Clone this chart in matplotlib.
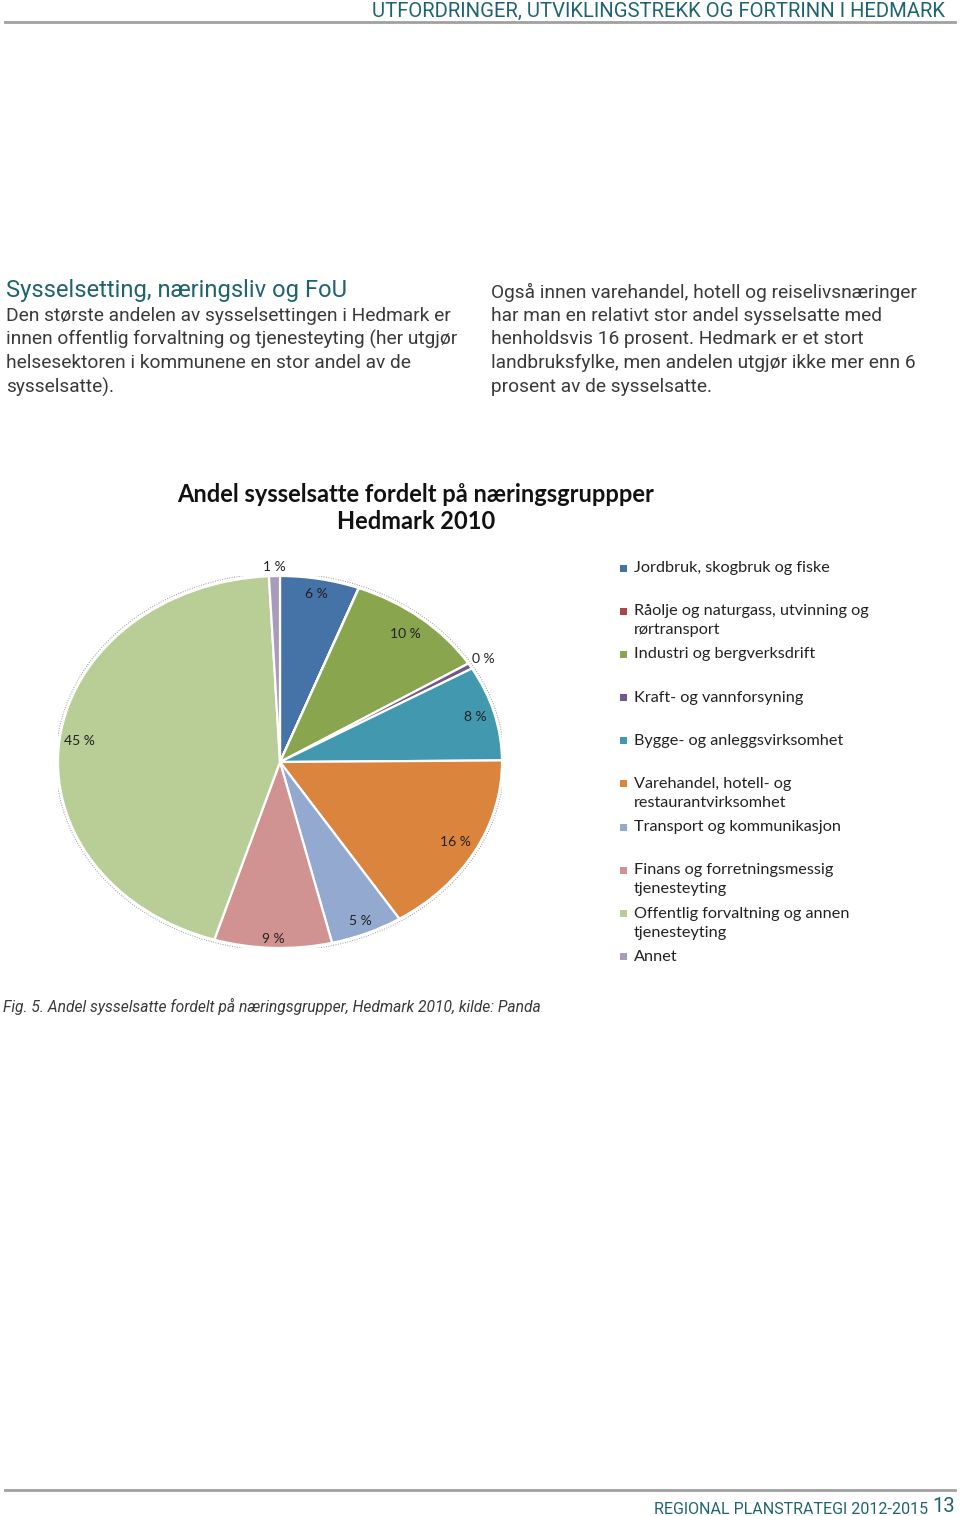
import numpy as np
import matplotlib
matplotlib.use("Agg")
import matplotlib.pyplot as plt
from matplotlib.patches import Rectangle, Ellipse

# ---------------- data ----------------
categories = [
    "Jordbruk, skogbruk og fiske",
    "Råolje og naturgass, utvinning og\nrørtransport",
    "Industri og bergverksdrift",
    "Kraft- og vannforsyning",
    "Bygge- og anleggsvirksomhet",
    "Varehandel, hotell- og\nrestaurantvirksomhet",
    "Transport og kommunikasjon",
    "Finans og forretningsmessig\ntjenesteyting",
    "Offentlig forvaltning og annen\ntjenesteyting",
    "Annet",
]
shares = [5.8, 0.02, 10.4, 0.5, 8.3, 16.2, 5.3, 8.6, 44.7, 0.8]
colors = ["#4572A7", "#AA4643", "#89A54E", "#71588F", "#4198AF",
          "#DB843D", "#93A9CF", "#D19392", "#B9CD96", "#A99BBD"]
label_dist = [0.92, 1.07, 0.89, 1.07, 0.91, 0.90, 0.93, 0.95, 0.91, 1.05]

W, H = 960, 1516
fig = plt.figure(figsize=(W / 100, H / 100), dpi=100)
fig.patch.set_facecolor("white")

def fx(px):
    return px / W

def fy(py):
    return 1 - py / H

teal = "#1d6470"
body = "#3a3a3a"
sans = ["Roboto", "DejaVu Sans"]
cal = ["Lato", "DejaVu Sans"]

# header
fig.text(fx(945), fy(11), "UTFORDRINGER, UTVIKLINGSTREKK OG FORTRINN I HEDMARK",
         ha="right", va="center", fontsize=14.6, color=teal, family=sans)
fig.add_artist(plt.Line2D([fx(5), fx(955)], [fy(22), fy(22)], color="#a0a0a0", lw=2))

# heading and body
fig.text(fx(6), fy(291), "Sysselsetting, næringsliv og FoU", ha="left", va="center",
         fontsize=17.1, color=teal, family=sans)
left_lines = ["Den største andelen av sysselsettingen i Hedmark er",
              "innen offentlig forvaltning og tjenesteyting (her utgjør",
              "helsesektoren i kommunene en stor andel av de",
              "sysselsatte)."]
right_lines = ["Også innen varehandel, hotell og reiselivsnæringer",
               "har man en relativt stor andel sysselsatte med",
               "henholdsvis 16 prosent. Hedmark er et stort",
               "landbruksfylke, men andelen utgjør ikke mer enn 6",
               "prosent av de sysselsatte."]
for i, t in enumerate(left_lines):
    fig.text(fx(6), fy(316 + i * 23.7), t, ha="left", va="center",
             fontsize=13.8, color=body, family=sans)
for i, t in enumerate(right_lines):
    fig.text(fx(491), fy(292 + i * 23.7), t, ha="left", va="center",
             fontsize=13.8, color=body, family=sans)

# chart title
fig.text(fx(416), fy(494), "Andel sysselsatte fordelt på næringsgruppper", ha="center",
         va="center", fontsize=17, fontweight="bold", color="#111111", family=cal)
fig.text(fx(416), fy(521), "Hedmark 2010", ha="center",
         va="center", fontsize=17, fontweight="bold", color="#111111", family=cal)

# pie (elliptical)
x0, x1, y0, y1 = 58, 502, 576, 948
ax = fig.add_axes([fx(x0), fy(y1), fx(x1) - fx(x0), (y1 - y0) / H])
wedges, _ = ax.pie(shares, colors=colors, startangle=90, counterclock=False,
                   radius=1.0, wedgeprops=dict(edgecolor="white", linewidth=1.6))
ax.set_aspect("auto")
ax.set_xlim(-1.0, 1.0)
ax.set_ylim(-1.0, 1.0)
ax.axis("off")
ax.add_patch(Ellipse((0, 0), 2.02, 2.03, fill=False, edgecolor="#9a9a9a",
                     linestyle=(0, (1, 1.5)), lw=0.7, zorder=0))

for w, v, d in zip(wedges, shares, label_dist):
    if v < 0.1:
        continue
    ang = np.deg2rad((w.theta1 + w.theta2) / 2)
    ax.text(d * np.cos(ang), d * np.sin(ang), f"{v:.0f} %", ha="center", va="center",
            fontsize=10, color="#222222", family=cal)

# legend
for i, (c, lab) in enumerate(zip(colors, categories)):
    ytop = 568 + i * 43.2
    fig.add_artist(Rectangle((fx(620), fy(ytop + 3.5)), 7 / W, 7 / H,
                             facecolor=c, edgecolor="none", transform=fig.transFigure))
    fig.text(fx(634), fy(ytop - 7), lab, ha="left", va="top", fontsize=11.7,
             color="#222222", family=cal, linespacing=1.45)

# caption
fig.text(fx(3), fy(1006), "Fig. 5. Andel sysselsatte fordelt på næringsgrupper, Hedmark 2010, kilde: Panda",
         ha="left", va="center", fontsize=11.25, style="italic", color=body, family=sans)

# footer
fig.add_artist(plt.Line2D([fx(5), fx(955)], [fy(1490), fy(1490)], color="#a0a0a0", lw=2))
fig.text(fx(928), fy(1509), "REGIONAL PLANSTRATEGI 2012-2015", ha="right", va="center",
         fontsize=11.5, color=teal, family=sans)
fig.text(fx(955), fy(1507), "13", ha="right", va="center",
         fontsize=14.5, color=teal, family=sans)

fig.savefig("out.png", dpi=100, facecolor="white")
